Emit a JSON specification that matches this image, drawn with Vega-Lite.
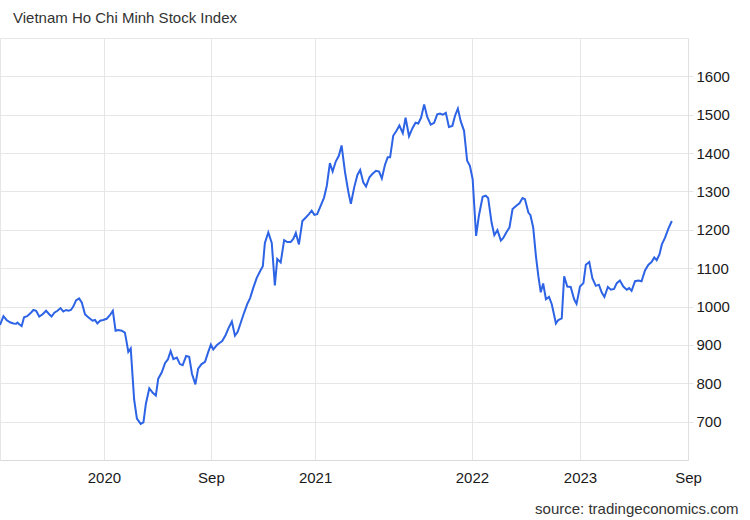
{
  "$schema": "https://vega.github.io/schema/vega-lite/v6.json",
  "autosize": {"type": "none"},
  "width": 688,
  "height": 422,
  "padding": {"top": 38, "left": 0, "right": 62, "bottom": 60},
  "background": "#ffffff",
  "config": {
    "font": "Liberation Sans",
    "view": {"stroke": "#e6e6e6", "strokeWidth": 1}
  },
  "title": {
    "text": "Vietnam Ho Chi Minh Stock Index",
    "anchor": "start",
    "frame": "group",
    "dx": 13,
    "offset": 15,
    "dy": 15,
    "baseline": "alphabetic",
    "fontSize": 15,
    "fontWeight": "normal",
    "color": "#333333",
    "font": "Liberation Sans"
  },
  "data": {
    "values": [
      {"i": 0, "v": 952}, {"i": 1.0, "v": 975}, {"i": 1.9, "v": 965}, {"i": 2.9, "v": 959},
      {"i": 3.9, "v": 956}, {"i": 4.7, "v": 955}, {"i": 5.1, "v": 958}, {"i": 5.6, "v": 954},
      {"i": 6.3, "v": 949}, {"i": 7.0, "v": 972}, {"i": 7.9, "v": 975}, {"i": 8.9, "v": 983},
      {"i": 9.7, "v": 991}, {"i": 10.5, "v": 989}, {"i": 11.4, "v": 974}, {"i": 12.4, "v": 980},
      {"i": 13.4, "v": 989}, {"i": 14.3, "v": 980}, {"i": 15.0, "v": 974}, {"i": 15.8, "v": 984},
      {"i": 16.7, "v": 989}, {"i": 17.6, "v": 996}, {"i": 18.4, "v": 987}, {"i": 19.2, "v": 991},
      {"i": 19.9, "v": 989}, {"i": 20.6, "v": 991}, {"i": 21.3, "v": 1000}, {"i": 22.1, "v": 1016},
      {"i": 23.0, "v": 1021}, {"i": 23.8, "v": 1010}, {"i": 24.7, "v": 980}, {"i": 25.4, "v": 974},
      {"i": 26.2, "v": 968}, {"i": 26.9, "v": 963}, {"i": 27.6, "v": 965}, {"i": 28.3, "v": 956},
      {"i": 29.1, "v": 963}, {"i": 30.0, "v": 965}, {"i": 31.0, "v": 968}, {"i": 32.0, "v": 978},
      {"i": 32.8, "v": 989}, {"i": 33.6, "v": 937}, {"i": 34.4, "v": 939}, {"i": 35.4, "v": 937},
      {"i": 36.3, "v": 932}, {"i": 36.8, "v": 908}, {"i": 37.3, "v": 882}, {"i": 38.0, "v": 891},
      {"i": 39.0, "v": 757}, {"i": 39.8, "v": 708}, {"i": 40.9, "v": 694}, {"i": 41.7, "v": 698},
      {"i": 42.4, "v": 746}, {"i": 43.4, "v": 787}, {"i": 44.4, "v": 775}, {"i": 45.3, "v": 768},
      {"i": 46.0, "v": 812}, {"i": 47.0, "v": 828}, {"i": 48.0, "v": 853}, {"i": 48.8, "v": 862},
      {"i": 49.6, "v": 884}, {"i": 50.4, "v": 863}, {"i": 51.4, "v": 867}, {"i": 52.3, "v": 850},
      {"i": 53.1, "v": 847}, {"i": 54.1, "v": 871}, {"i": 55.0, "v": 869}, {"i": 55.8, "v": 825},
      {"i": 56.8, "v": 797}, {"i": 57.6, "v": 838}, {"i": 58.6, "v": 850}, {"i": 59.6, "v": 856},
      {"i": 60.4, "v": 878}, {"i": 61.3, "v": 901}, {"i": 62.0, "v": 888}, {"i": 63.0, "v": 899},
      {"i": 63.8, "v": 905}, {"i": 64.6, "v": 910}, {"i": 65.6, "v": 926}, {"i": 66.4, "v": 943},
      {"i": 67.4, "v": 961}, {"i": 68.3, "v": 924}, {"i": 69.1, "v": 934}, {"i": 70.1, "v": 961},
      {"i": 71.0, "v": 985}, {"i": 71.9, "v": 1007}, {"i": 72.7, "v": 1022}, {"i": 73.6, "v": 1048},
      {"i": 74.6, "v": 1074}, {"i": 75.6, "v": 1092}, {"i": 76.4, "v": 1105}, {"i": 77.0, "v": 1166},
      {"i": 78.0, "v": 1193}, {"i": 79.0, "v": 1166}, {"i": 79.9, "v": 1055}, {"i": 80.6, "v": 1124},
      {"i": 81.6, "v": 1115}, {"i": 82.6, "v": 1173}, {"i": 83.5, "v": 1168}, {"i": 84.5, "v": 1168},
      {"i": 85.3, "v": 1177}, {"i": 86.0, "v": 1192}, {"i": 86.9, "v": 1162}, {"i": 87.9, "v": 1223},
      {"i": 88.9, "v": 1232}, {"i": 89.8, "v": 1241}, {"i": 90.6, "v": 1250}, {"i": 91.4, "v": 1239},
      {"i": 92.2, "v": 1241}, {"i": 93.0, "v": 1258}, {"i": 94.2, "v": 1284}, {"i": 95.0, "v": 1315},
      {"i": 95.9, "v": 1374}, {"i": 96.7, "v": 1352}, {"i": 97.6, "v": 1378}, {"i": 98.5, "v": 1393},
      {"i": 99.3, "v": 1420}, {"i": 100.3, "v": 1350}, {"i": 101.3, "v": 1297}, {"i": 102.0, "v": 1268},
      {"i": 103.0, "v": 1312}, {"i": 103.9, "v": 1343}, {"i": 104.7, "v": 1356}, {"i": 105.6, "v": 1324},
      {"i": 106.4, "v": 1313}, {"i": 107.4, "v": 1337}, {"i": 108.3, "v": 1346}, {"i": 109.3, "v": 1354},
      {"i": 110.2, "v": 1352}, {"i": 111.0, "v": 1334}, {"i": 111.9, "v": 1369}, {"i": 112.7, "v": 1389},
      {"i": 113.4, "v": 1389}, {"i": 114.3, "v": 1445}, {"i": 115.3, "v": 1459}, {"i": 116.1, "v": 1472},
      {"i": 117.1, "v": 1452}, {"i": 117.9, "v": 1492}, {"i": 118.9, "v": 1444}, {"i": 119.9, "v": 1465},
      {"i": 120.8, "v": 1479}, {"i": 121.6, "v": 1477}, {"i": 122.4, "v": 1492}, {"i": 123.3, "v": 1527},
      {"i": 124.2, "v": 1494}, {"i": 125.2, "v": 1474}, {"i": 126.2, "v": 1479}, {"i": 127.1, "v": 1501},
      {"i": 127.9, "v": 1503}, {"i": 128.7, "v": 1500}, {"i": 129.6, "v": 1505}, {"i": 130.5, "v": 1468},
      {"i": 131.5, "v": 1471}, {"i": 132.3, "v": 1498}, {"i": 133.1, "v": 1516}, {"i": 133.9, "v": 1484},
      {"i": 134.9, "v": 1458}, {"i": 135.8, "v": 1380}, {"i": 136.6, "v": 1367}, {"i": 137.4, "v": 1332},
      {"i": 137.9, "v": 1258}, {"i": 138.4, "v": 1184}, {"i": 139.2, "v": 1236}, {"i": 140.3, "v": 1286},
      {"i": 141.2, "v": 1289}, {"i": 141.9, "v": 1283}, {"i": 142.9, "v": 1219}, {"i": 143.7, "v": 1186},
      {"i": 144.6, "v": 1199}, {"i": 145.6, "v": 1172}, {"i": 146.3, "v": 1179}, {"i": 147.3, "v": 1195},
      {"i": 148.1, "v": 1206}, {"i": 149.0, "v": 1254}, {"i": 150.0, "v": 1262}, {"i": 151.0, "v": 1269},
      {"i": 151.9, "v": 1283}, {"i": 152.6, "v": 1280}, {"i": 153.6, "v": 1245}, {"i": 154.2, "v": 1238},
      {"i": 155.0, "v": 1206}, {"i": 155.8, "v": 1131}, {"i": 156.5, "v": 1079}, {"i": 157.2, "v": 1037},
      {"i": 157.9, "v": 1060}, {"i": 158.7, "v": 1019}, {"i": 159.6, "v": 1025}, {"i": 160.4, "v": 1006},
      {"i": 161.0, "v": 981}, {"i": 161.6, "v": 956}, {"i": 162.3, "v": 965}, {"i": 163.3, "v": 969},
      {"i": 164.0, "v": 1079}, {"i": 164.9, "v": 1052}, {"i": 165.9, "v": 1051}, {"i": 166.9, "v": 1019},
      {"i": 167.6, "v": 1007}, {"i": 168.6, "v": 1052}, {"i": 169.6, "v": 1061}, {"i": 170.3, "v": 1109},
      {"i": 171.3, "v": 1116}, {"i": 172.2, "v": 1074}, {"i": 173.2, "v": 1054}, {"i": 174.1, "v": 1057},
      {"i": 174.9, "v": 1037}, {"i": 175.7, "v": 1025}, {"i": 176.7, "v": 1051}, {"i": 177.6, "v": 1044},
      {"i": 178.5, "v": 1046}, {"i": 179.3, "v": 1061}, {"i": 180.2, "v": 1068}, {"i": 181.2, "v": 1052},
      {"i": 182.2, "v": 1044}, {"i": 182.9, "v": 1048}, {"i": 183.6, "v": 1041}, {"i": 184.6, "v": 1066},
      {"i": 185.6, "v": 1068}, {"i": 186.5, "v": 1066}, {"i": 187.5, "v": 1094}, {"i": 188.5, "v": 1109},
      {"i": 189.4, "v": 1116}, {"i": 190.2, "v": 1128}, {"i": 190.9, "v": 1121}, {"i": 191.7, "v": 1136},
      {"i": 192.4, "v": 1162}, {"i": 193.3, "v": 1179}, {"i": 194.3, "v": 1203}, {"i": 195.3, "v": 1223}
    ]
  },
  "mark": {"type": "line", "color": "#2d63e5", "strokeWidth": 2, "interpolate": "linear"},
  "encoding": {
    "x": {
      "field": "i",
      "type": "quantitative",
      "scale": {"domain": [0, 200], "nice": false, "zero": false},
      "axis": {
        "title": "source: tradingeconomics.com",
        "titleAnchor": "end",
        "titleAlign": "right",
        "titleBaseline": "alphabetic",
        "titleX": 738,
        "titleY": 53,
        "titleFontSize": 15,
        "titleFontWeight": "normal",
        "titleColor": "#333333",
        "titleFont": "Liberation Sans",
        "values": [30.2, 61.3, 91.6, 137.2, 168.6, 200],
        "labelExpr": "datum.value < 40 ? '2020' : datum.value < 70 ? 'Sep' : datum.value < 100 ? '2021' : datum.value < 150 ? '2022' : datum.value < 180 ? '2023' : 'Sep'",
        "labelFontSize": 15,
        "labelColor": "#1a1a1a",
        "labelFont": "Liberation Sans",
        "labelPadding": 10,
        "labelOverlap": false,
        "labelFlush": false,
        "ticks": false,
        "grid": true,
        "gridColor": "#e6e6e6",
        "domainColor": "#d9d9d9"
      }
    },
    "y": {
      "field": "v",
      "type": "quantitative",
      "scale": {"domain": [600, 1700], "nice": false, "zero": false},
      "axis": {
        "orient": "right",
        "title": null,
        "format": "d",
        "values": [700, 800, 900, 1000, 1100, 1200, 1300, 1400, 1500, 1600],
        "labelFontSize": 15,
        "labelColor": "#1a1a1a",
        "labelFont": "Liberation Sans",
        "labelPadding": 3,
        "tickSize": 5,
        "tickColor": "#e6e6e6",
        "grid": true,
        "gridColor": "#e6e6e6",
        "domainColor": "#e0e0e0"
      }
    }
  }
}
